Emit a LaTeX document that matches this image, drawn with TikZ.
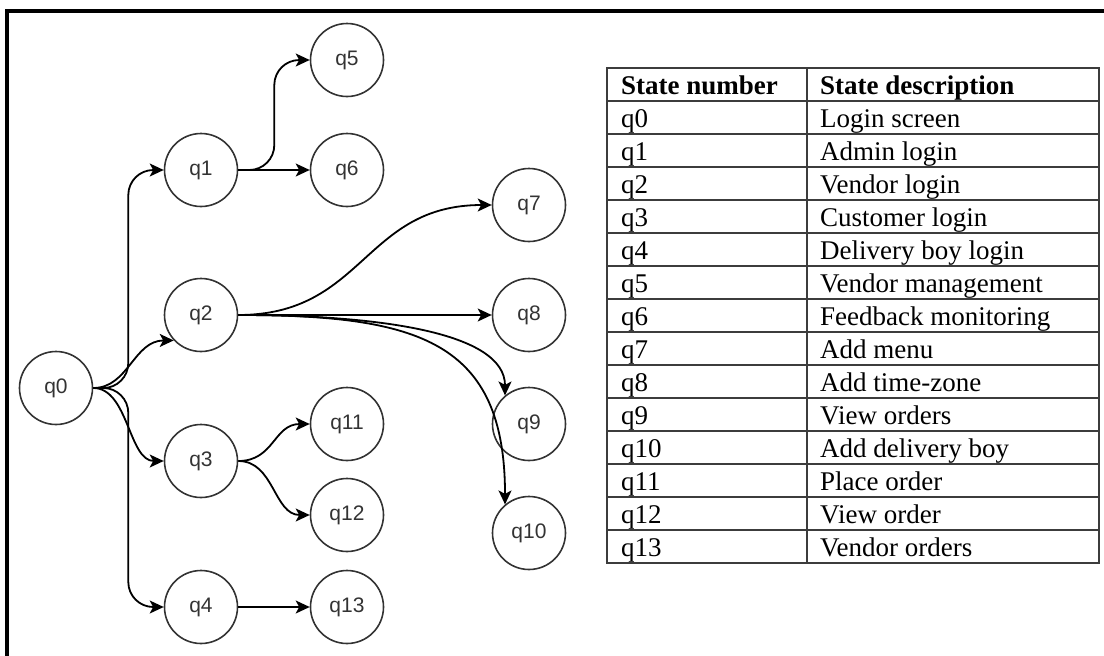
\documentclass[tikz,border=0pt]{standalone}
\usepackage{fontspec}
\setmainfont{Liberation Serif}
\newfontfamily\statefont{Liberation Sans}
\usepackage{xcolor}
\usepackage{tikz}
\usetikzlibrary{arrows.meta}
\definecolor{inkgray}{HTML}{333333}
\definecolor{rulegray}{HTML}{3C3C3C}

\begin{document}
\begin{tikzpicture}[
        x=1pt, y=-1pt,
        state/.style={
            circle,
            draw=inkgray,
            line width=1.6pt,
            minimum size=73pt,
            inner sep=0pt,
            text=inkgray,
            font=\statefont\fontsize{21}{21}\selectfont
        },
        edge/.style={-{Stealth[length=14pt,width=13pt,inset=3.5pt]}, line width=1.8pt, draw=black},
        elbow/.style={edge, rounded corners=25pt},
        cell/.style={anchor=base west, inner sep=0pt, font=\fontsize{27}{27}\selectfont},
        tablerule/.style={draw=rulegray, line width=1.5pt}
    ]
        \useasboundingbox (0,0) rectangle (1104,656);
        \draw[line width=4pt] (7,660) -- (7,11) -- (1108,11);

        \node[state] (q0) at (56,388) {q0};
        \node[state] (q1) at (201,170) {q1};
        \node[state] (q2) at (201,315) {q2};
        \node[state] (q3) at (201,461) {q3};
        \node[state] (q4) at (201,607) {q4};
        \node[state] (q5) at (347,60) {q5};
        \node[state] (q6) at (347,170) {q6};
        \node[state] (q11) at (347,424) {q11};
        \node[state] (q12) at (347,515) {q12};
        \node[state] (q13) at (347,607) {q13};
        \node[state] (q7) at (529,205) {q7};
        \node[state] (q8) at (529,315) {q8};
        \node[state] (q9) at (529,424) {q9};
        \node[state] (q10) at (529,533) {q10};

        \draw[elbow] (q0.east) -- ++(35,0) |- (q1.west);
        \draw[edge] (q0.east) .. controls +(35,0) and +(-40,0) .. (q2.223);
        \draw[edge] (q0.east) .. controls +(35,0) and +(-35,0) .. (q3.west);
        \draw[elbow] (q0.east) -- ++(35,0) |- (q4.west);
        \draw[elbow] (q1.east) -- ++(36,0) |- (q5.west);
        \draw[edge] (q1.east) -- (q6.west);
        \draw[edge] (q2.east) .. controls +(126,0) and +(-128,0) .. (q7.west);
        \draw[edge] (q2.east) -- (q8.west);
        \draw[edge] (q2.east) .. controls +(141,0) and +(0,-63) .. (q9.130);
        \draw[edge] (q2.east) .. controls +(181,0) and +(0,-163) .. (q10.130);
        \draw[edge] (q3.east) .. controls +(36,0) and +(-36,0) .. (q11.west);
        \draw[edge] (q3.east) .. controls +(36,0) and +(-36,0) .. (q12.west);
        \draw[edge] (q4.east) -- (q13.west);

        \draw[tablerule] (607,68) rectangle (1099,563);
        \draw[tablerule] (807,68) -- (807,563);
        \foreach \r in {1,...,14}
            \draw[tablerule] (607,68+33*\r) -- (1099,68+33*\r);

        \node[cell, font=\fontsize{27}{27}\selectfont\bfseries] (numhead) at (621,94) {State number};
        \node[cell, font=\fontsize{27}{27}\selectfont\bfseries] (deschead) at (820,94) {State description};
        \foreach \desc [count=\i from 0] in {Login screen, Admin login, Vendor login, Customer login,
                Delivery boy login, Vendor management, Feedback monitoring, Add menu, Add time-zone,
                View orders, Add delivery boy, Place order, View order, Vendor orders}{
            \node[cell] (num\i) at (621,{127+33*\i}) {q\i};
            \node[cell] (desc\i) at (820,{127+33*\i}) {\desc};
        }
    \end{tikzpicture}
\end{document}
